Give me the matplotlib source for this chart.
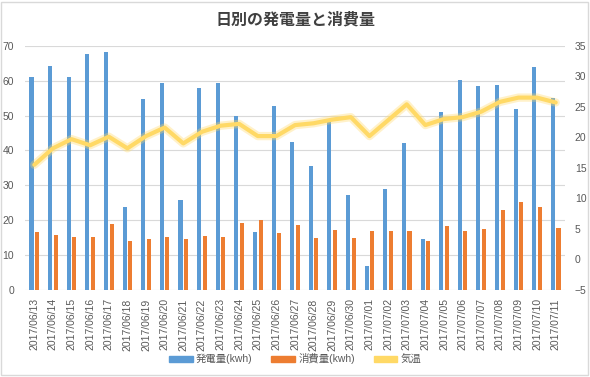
import numpy as np
import matplotlib
matplotlib.use("Agg")
import matplotlib.pyplot as plt
from matplotlib.patches import Patch, Rectangle

plt.rcParams["font.family"] = ["Liberation Sans", "Noto Sans CJK JP", "DejaVu Sans"]

dates = ["2017/06/13", "2017/06/14", "2017/06/15", "2017/06/16", "2017/06/17",
         "2017/06/18", "2017/06/19", "2017/06/20", "2017/06/21", "2017/06/22",
         "2017/06/23", "2017/06/24", "2017/06/25", "2017/06/26", "2017/06/27",
         "2017/06/28", "2017/06/29", "2017/06/30", "2017/07/01", "2017/07/02",
         "2017/07/03", "2017/07/04", "2017/07/05", "2017/07/06", "2017/07/07",
         "2017/07/08", "2017/07/09", "2017/07/10", "2017/07/11"]

generation = [61.0, 64.2, 61.0, 67.5, 68.2, 23.8, 54.7, 59.3, 25.8, 57.9,
              59.3, 49.9, 16.6, 52.7, 42.4, 35.6, 48.1, 27.3, 6.8, 28.8,
              42.2, 14.5, 51.0, 60.2, 58.5, 58.7, 51.9, 63.9, 55.0]

consumption = [16.6, 15.8, 15.2, 15.2, 18.9, 14.1, 14.6, 15.2, 14.6, 15.5,
               15.2, 19.2, 20.1, 16.3, 18.7, 15.0, 17.3, 14.8, 17.0, 17.0,
               17.0, 13.9, 18.2, 17.0, 17.6, 23.0, 25.3, 23.9, 17.9]

temperature = [15.5, 18.2, 19.7, 18.7, 20.1, 18.2, 20.2, 21.6, 19.0, 20.9,
               21.9, 22.2, 20.2, 20.2, 22.0, 22.3, 22.9, 23.3, 20.2, 22.8,
               25.4, 22.0, 23.0, 23.3, 24.2, 25.8, 26.5, 26.5, 25.7]

BLUE = "#5B9BD5"
ORANGE = "#ED7D31"
YELLOW = "#FFD966"
TEXT = "#595959"

fig = plt.figure(figsize=(5.9, 3.77), dpi=100)
ax = fig.add_axes([25 / 590, 87 / 377, 540 / 590, 244.3 / 377])

x = np.arange(len(dates))
w = 0.22
ax.bar(x - 0.15, generation, width=w, color=BLUE, zorder=2)
ax.bar(x + 0.15, consumption, width=w, color=ORANGE, zorder=2)

ax.set_xlim(-0.5, len(dates) - 0.5)
ax.set_ylim(0, 70)
ax.set_yticks(range(0, 71, 10))
ax.grid(axis="y", color="#D9D9D9", linewidth=0.8, zorder=0)
ax.set_axisbelow(True)
ax.set_xticks(x)
ax.set_xticklabels(dates, rotation=90)
ax.tick_params(axis="both", length=0, labelsize=7.5, colors=TEXT)
ax.tick_params(axis="x", pad=6)
ax.tick_params(axis="y", pad=8)
for s in ax.spines.values():
    s.set_visible(False)

ax2 = ax.twinx()
ax2.plot(x, temperature, color=YELLOW, linewidth=6, alpha=0.35,
         solid_joinstyle="round", solid_capstyle="round", zorder=3)
ax2.plot(x, temperature, color=YELLOW, linewidth=3,
         solid_joinstyle="round", solid_capstyle="round", zorder=4)
ax2.set_ylim(-5, 35)
ax2.set_yticks(range(-5, 36, 5))
ax2.tick_params(axis="y", length=0, labelsize=7.5, colors=TEXT, pad=7)
for s in ax2.spines.values():
    s.set_visible(False)

fig.text(0.5, 1 - 20 / 377, "日別の発電量と消費量", ha="center", va="center",
         fontsize=11.5, fontweight="bold", color="#404040")

handles = [Patch(color=BLUE), Patch(color=ORANGE), Patch(color=YELLOW)]
labels = ["発電量(kwh)", "消費量(kwh)", "気温"]
fig.legend(handles, labels, loc="center", bbox_to_anchor=(0.5, 1 - 359 / 377),
           ncol=3, frameon=False, fontsize=7.5, handlelength=2.3,
           handleheight=0.45, columnspacing=1.8, handletextpad=0.3,
           labelcolor=TEXT)

fig.patches.append(Rectangle((0.002, 0.004), 0.995, 0.992, transform=fig.transFigure,
                             fill=False, edgecolor="#D9D9D9", linewidth=1))

fig.savefig("out.png", dpi=100)
